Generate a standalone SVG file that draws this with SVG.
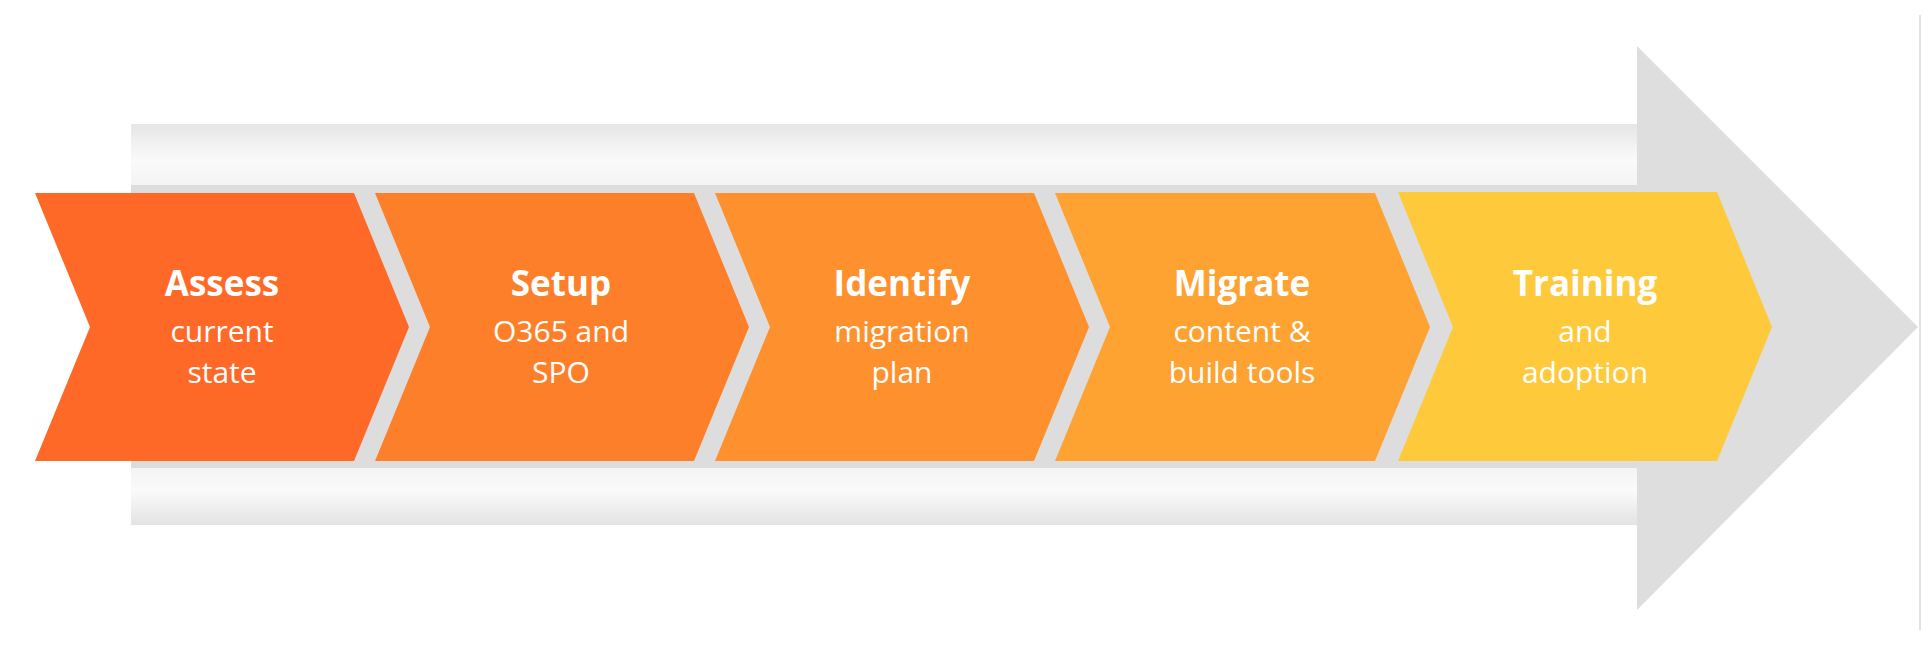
<svg xmlns="http://www.w3.org/2000/svg" width="1924" height="652" viewBox="0 0 1924 652">
<defs>
<linearGradient id="gt" x1="0" y1="0" x2="0" y2="1"><stop offset="0" stop-color="#e6e6e6"/><stop offset="0.6" stop-color="#fafafa"/><stop offset="1" stop-color="#f4f4f4"/></linearGradient>
<linearGradient id="gb" x1="0" y1="0" x2="0" y2="1"><stop offset="0" stop-color="#f4f4f4"/><stop offset="0.4" stop-color="#fafafa"/><stop offset="1" stop-color="#e3e3e3"/></linearGradient>
<style>
.t{font-family:"Open Sans","Noto Sans",sans-serif;fill:#fff;text-anchor:middle}
.b{font-weight:bold;font-size:35px}
.r{font-size:30px}
</style>
</defs>
<rect width="1924" height="652" fill="#fff"/>
<g id="background">
<rect x="131" y="124" width="1506" height="61" fill="url(#gt)"/>
<rect x="131" y="468" width="1506" height="57" fill="url(#gb)"/>
<rect x="131" y="185" width="1506" height="283" fill="#dddddd"/>
<polygon points="1637,46 1918,327 1637,610" fill="#dedede"/>
<line x1="1920" y1="15" x2="1920" y2="630" stroke="#e2e2e2" stroke-width="2"/>
</g>
<g id="n1"><polygon points="35,193 354,193 409,327 354,461 35,461 90,327" fill="#ff6928"/>
<text class="t b" x="222" y="296">Assess</text><text class="t r" x="222" y="342">current</text><text class="t r" x="222" y="383">state</text></g>
<g id="n2"><polygon points="375,193 694,193 749,327 694,461 375,461 430,327" fill="#fe7f2a"/>
<text class="t b" x="561" y="296">Setup</text><text class="t r" x="561" y="342">O365 and</text><text class="t r" x="561" y="383">SPO</text></g>
<g id="n3"><polygon points="715,193 1034,193 1089,327 1034,461 715,461 770,327" fill="#fe902e"/>
<text class="t b" x="902" y="296">Identify</text><text class="t r" x="902" y="342">migration</text><text class="t r" x="902" y="383">plan</text></g>
<g id="n4"><polygon points="1055,193 1375,193 1430,327 1375,461 1055,461 1110,327" fill="#fea232"/>
<text class="t b" x="1242" y="296">Migrate</text><text class="t r" x="1242" y="342">content &amp;</text><text class="t r" x="1242" y="383">build tools</text></g>
<g id="n5"><polygon points="1398,192 1717,192 1772,327 1717,461 1398,461 1453,327" fill="#ffc93c"/>
<text class="t b" x="1585" y="296">Training</text><text class="t r" x="1585" y="342">and</text><text class="t r" x="1585" y="383">adoption</text></g>
<g id="connectors"/>
</svg>
